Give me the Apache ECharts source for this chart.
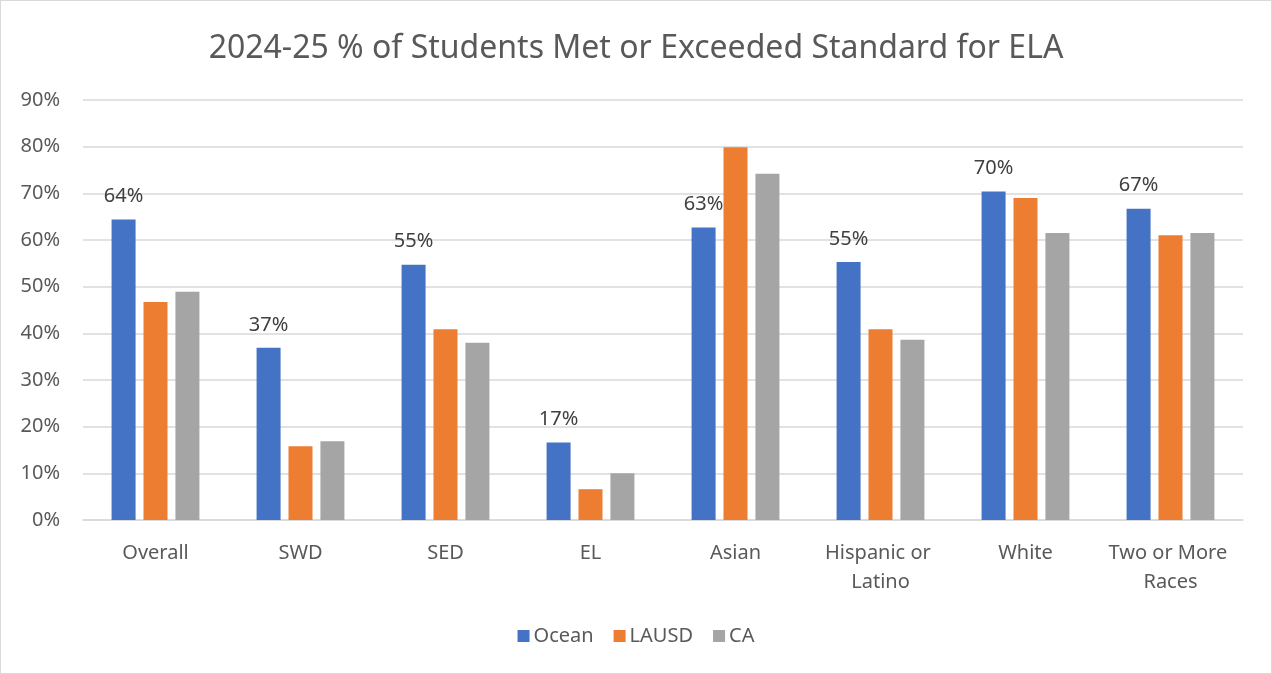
<!DOCTYPE html>
<html>
<head>
<meta charset="utf-8">
<script src="https://cdn.jsdelivr.net/npm/echarts@6/dist/echarts.min.js"></script>
<style>
html,body{margin:0;padding:0;background:#fff;}
#frame{position:absolute;left:0;top:0;width:1270px;height:672px;border:1px solid #d9d9d9;box-sizing:content-box;}
#chart{width:1270px;height:672px;}
</style>
</head>
<body>
<div id="frame"><div id="chart"></div></div>
<script>
const titleText = '2024-25 % of Students Met or Exceeded Standard for ELA';
const categories = ['Overall', 'SWD', 'SED', 'EL', 'Asian', 'Hispanic or Latino', 'White', 'Two or More Races'];
const seriesNames = ['Ocean', 'LAUSD', 'CA'];
const oceanValues = [64.4, 36.9, 54.7, 16.6, 62.7, 55.3, 70.4, 66.7];
const lausdValues = [46.7, 15.8, 40.9, 6.6, 79.9, 40.9, 69.0, 61.0];
const caValues = [48.9, 16.9, 38.0, 10.0, 74.2, 38.6, 61.5, 61.5];
const yTicks = { min: 0, max: 90, interval: 10 };

const colors = ['#4472C4', '#ED7D31', '#A5A5A5'];
const fontFam = '"Noto Sans", "Open Sans", sans-serif';
const chart = echarts.init(document.getElementById('chart'));

const valueSets = [oceanValues, lausdValues, caValues];
const series = seriesNames.map((name, i) => ({
  name: name,
  type: 'bar',
  data: valueSets[i],
  barWidth: 24,
  barGap: '33%',
  itemStyle: { color: colors[i] },
  label: i === 0 ? {
    show: true,
    position: 'top',
    distance: 13,
    formatter: p => Math.round(p.value) + '%',
    fontSize: 20,
    color: '#404040',
    fontFamily: fontFam
  } : { show: false },
  emphasis: { disabled: true }
}));

chart.setOption({
  animation: false,
  color: colors,
  title: {
    text: titleText,
    left: 'center',
    top: 27,
    textStyle: { fontSize: 32, fontWeight: 'normal', color: '#595959', fontFamily: fontFam }
  },
  legend: {
    data: seriesNames,
    bottom: 22,
    left: 'center',
    itemWidth: 12,
    itemHeight: 12,
    itemGap: 20,
    icon: 'rect',
    textStyle: { fontSize: 20, color: '#595959', fontFamily: fontFam, padding: [0, 0, 0, -1] }
  },
  grid: { left: 82, right: 28, top: 99, bottom: 153, containLabel: false },
  xAxis: {
    type: 'category',
    data: categories,
    axisLine: { lineStyle: { color: '#d9d9d9', width: 1.5 } },
    axisTick: { show: false },
    axisLabel: {
      fontSize: 20,
      color: '#595959',
      fontFamily: fontFam,
      margin: 19,
      lineHeight: 29,
      width: 140,
      overflow: 'break',
      interval: 0
    }
  },
  yAxis: {
    type: 'value',
    min: yTicks.min,
    max: yTicks.max,
    interval: yTicks.interval,
    axisLine: { show: false },
    axisTick: { show: false },
    splitLine: { lineStyle: { color: '#d9d9d9', width: 1.5 } },
    axisLabel: {
      formatter: '{value}%',
      fontSize: 20,
      color: '#595959',
      fontFamily: fontFam,
      margin: 23
    }
  },
  series: series
});
</script>
</body>
</html>
